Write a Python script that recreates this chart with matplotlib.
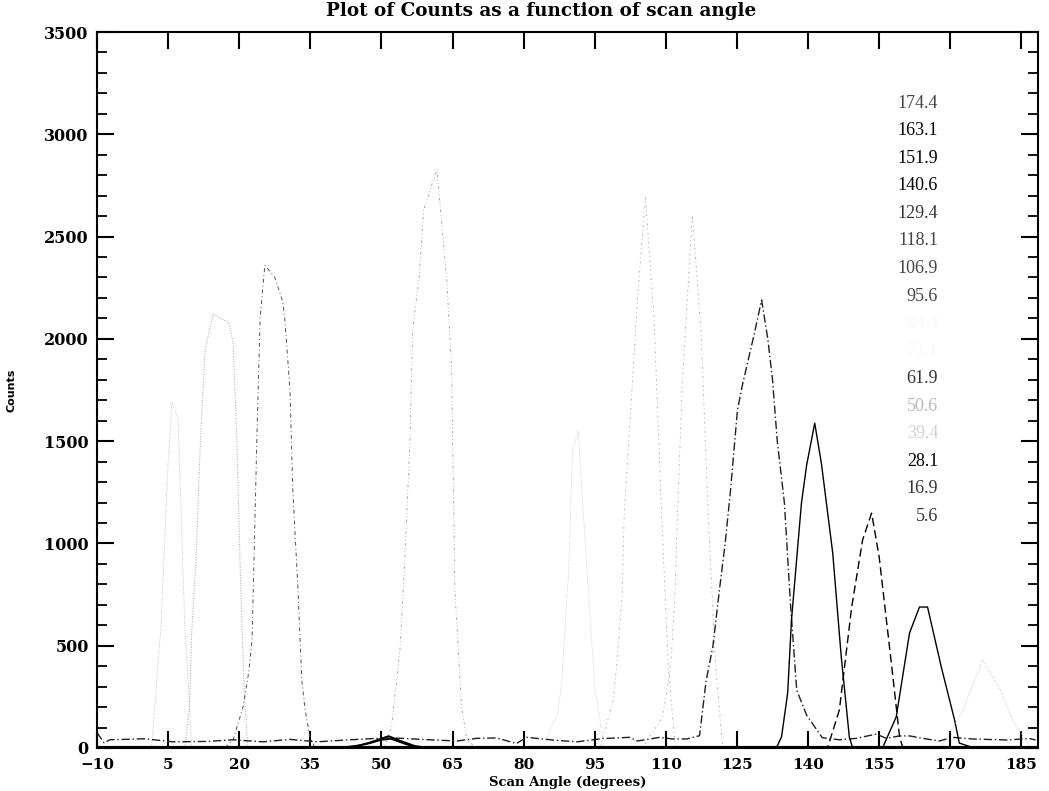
import matplotlib

matplotlib.use("Agg")
import matplotlib.pyplot as plt
from matplotlib.ticker import MultipleLocator

# scan angle / counts for each detector trace
ang_a = [-10, 17, 18.7, 20.8, 22.0, 22.7, 23.2, 23.7, 24.4, 25.4, 27.5, 29.2, 29.6, 30.7, 31.3, 32.4, 33.2, 33.9, 34.9, 36, 188]
cnt_a = [0, 0, 40, 200, 370, 530, 1000, 1500, 2100, 2360, 2300, 2180, 2100, 1750, 1260, 770, 330, 186, 54, 0, 0]

ang_b = [-10, 8.5, 9.5, 10.0, 10.9, 11.8, 12.8, 14.5, 17.8, 18.7, 19.5, 20.3, 21.0, 21.8, 188]
cnt_b = [0, 0, 200, 580, 930, 1500, 1950, 2120, 2080, 1980, 1500, 800, 300, 0, 0]

ang_c = [-10, 1.5, 3.5, 5.0, 5.8, 7.1, 8.5, 10.0, 188]
cnt_c = [0, 0, 600, 1400, 1690, 1610, 600, 0, 0]

ang_d = [-10, 50, 51.3, 52.2, 53.9, 54.9, 56.0, 56.6, 57.9, 58.9, 61.7, 63.8, 64.8, 65.5, 66.9, 68, 70, 188]
cnt_d = [0, 0, 40, 120, 480, 900, 1500, 2050, 2290, 2630, 2830, 2280, 1850, 770, 200, 40, 0, 0]

ang_e = [-10, 84, 87.2, 88.0, 89.5, 90.3, 91.5, 93, 95, 97, 188]
cnt_e = [0, 0, 170, 310, 870, 1450, 1550, 1000, 300, 0, 0]

ang_f = [-10, 96, 98.8, 99.6, 100.8, 101.2, 102.2, 104, 105.7, 107.5, 109, 110.5, 112, 188]
cnt_f = [0, 0, 220, 395, 757, 1130, 1500, 2200, 2690, 2100, 1200, 400, 0, 0]

ang_g = [-10, 105, 109.3, 110.8, 111.2, 112.0, 112.4, 113.5, 115.6, 117.5, 119, 120.5, 122, 188]
cnt_g = [0, 0, 150, 366, 464, 800, 1114, 1800, 2605, 2000, 1100, 400, 0, 0]

# background trace carrying the 130 deg peak
ang_h = [-10, -8.5, -7.3, 0, 6, 13.2, 18.7, 25, 30.7, 36.4, 43.3, 51.8, 60.2, 65.9, 70.1,
         74.3, 78.5, 80.6, 86.1, 91.2, 96.7, 102.4, 104, 108.7, 111.4, 114.4, 117.1, 118.5,
         119.9, 121.3, 122.5, 123.6, 125.1, 126.2, 128.7, 130.2, 131.5, 132.5, 133.5, 135.0,
         136.3, 137.6, 139.7, 143, 146.6, 150.2, 154.4, 156.5, 159.3, 161.4, 165, 167.7,
         170.4, 174.7, 181.8, 186.7, 188]
cnt_h = [75, 25, 40, 45, 30, 32, 40, 30, 42, 30, 40, 50, 40, 34, 47,
         49, 22, 52, 39, 30, 46, 52, 34, 52, 44, 44, 60, 330,
         494, 772, 1000, 1250, 1652, 1780, 2030, 2190, 2000, 1800, 1500, 1200,
         700, 283, 160, 50, 40, 47, 68, 47, 59, 59, 44, 34,
         52, 44, 39, 46, 39]

ang_i = [-10, 133.3, 134.4, 135.7, 136.5, 138.6, 139.7, 141.4, 142.8, 145.2, 147.0, 148.7, 149.4, 188]
cnt_i = [0, 0, 54, 270, 626, 1197, 1383, 1588, 1393, 953, 445, 54, 0, 0]

ang_j = [-10, 144.1, 146.6, 149.2, 151.5, 153.4, 155.0, 157.8, 159.3, 160, 188]
cnt_j = [0, 0, 186, 689, 1017, 1148, 934, 367, 54, 0, 0]

ang_k = [-10, 155.7, 158.6, 161.4, 163.5, 165.2, 168.1, 170.9, 171.9, 175, 188]
cnt_k = [0, 0, 152, 562, 689, 689, 396, 137, 24, 0, 0]

ang_l = [-10, 168, 172.5, 176.8, 180.8, 183.1, 187, 188]
cnt_l = [0, 0, 176, 430, 274, 137, 0, 0]

ang_m = [-10, 40, 45, 48, 51.5, 54, 57, 60, 188]
cnt_m = [0, 0, 10, 30, 58, 35, 10, 0, 0]

ang_n = [-10, 42, 47, 50, 52, 55, 58, 188]
cnt_n = [0, 0, 20, 40, 45, 20, 0, 0]

det_labels = ["174.4", "163.1", "151.9", "140.6", "129.4", "118.1", "106.9", "95.6",
              "84.4", "73.1", "61.9", "50.6", "39.4", "28.1", "16.9", "5.6"]
label_colors = ["#444444", "black", "black", "black", "#333333", "#444444", "#444444", "#444444",
                "#f8f8f8", "#f8f8f8", "#333333", "#b8b8b8", "#d0d0d0", "black", "#333333", "#333333"]

xticks = [-10, 5, 20, 35, 50, 65, 80, 95, 110, 125, 140, 155, 170, 185]

traces = [
    (ang_c, cnt_c, ":", "#b4b4b4", 0.6),
    (ang_b, cnt_b, ":", "#a0a0a0", 0.7),
    (ang_a, cnt_a, (0, (4, 3, 1, 3)), "#505050", 0.7),
    (ang_d, cnt_d, (0, (3, 3, 1, 3, 1, 3)), "#9a9a9a", 0.6),
    (ang_e, cnt_e, ":", "#c4c4c4", 0.6),
    (ang_f, cnt_f, (0, (2, 4, 1, 4)), "#a0a0a0", 0.6),
    (ang_g, cnt_g, (0, (2, 4, 1, 4)), "#a0a0a0", 0.6),
    (ang_h, cnt_h, (0, (6, 2, 1, 2)), "#202020", 1.0),
    (ang_i, cnt_i, "-", "black", 1.0),
    (ang_j, cnt_j, (0, (6, 3)), "black", 1.0),
    (ang_k, cnt_k, "-", "black", 1.0),
    (ang_l, cnt_l, ":", "#b8b8b8", 0.6),
    (ang_m, cnt_m, "-", "black", 1.3),
    (ang_n, cnt_n, "-", "black", 1.3),
]

fig = plt.figure(figsize=(10.49, 7.91), dpi=100)
ax = fig.add_axes([0.0925, 0.0544, 0.897, 0.9051])

for xs, ys, ls, col, lw in traces:
    ax.plot(xs, ys, linestyle=ls, color=col, linewidth=lw)
# heavy zero line where all the traces overlap
ax.axhline(0, color="black", linewidth=3.0)

ax.set_xlim(-10, 188.5)
ax.set_ylim(0, 3500)
ax.set_xticks(xticks)
ax.yaxis.set_major_locator(MultipleLocator(500))
ax.yaxis.set_minor_locator(MultipleLocator(100))
ax.tick_params(axis="both", which="major", direction="in", top=True, right=True,
               width=1.5, length=12, pad=6)
ax.tick_params(axis="x", which="major", pad=7)
ax.tick_params(axis="y", which="minor", direction="in", right=True, width=1.3, length=7)
ax.tick_params(axis="x", which="minor", bottom=False, top=False)
for lab in ax.get_yticklabels():
    lab.set_fontfamily("DejaVu Serif")
    lab.set_fontweight("bold")
    lab.set_fontsize(11.5)
for lab in ax.get_xticklabels():
    lab.set_fontfamily("DejaVu Serif")
    lab.set_fontweight("bold")
    lab.set_fontsize(11)
for sp in ax.spines.values():
    sp.set_linewidth(1.5)

for i, (txt, col) in enumerate(zip(det_labels, label_colors)):
    ax.text(0.894, 0.9008 - i * 0.0385, txt, transform=ax.transAxes, ha="right", va="center",
            fontsize=13, family="Liberation Serif", color=col)

fig.text(0.516, 0.986, "Plot of Counts as a function of scan angle", fontsize=13.2,
         fontweight="bold", family="DejaVu Serif", ha="center", va="center")
ax.set_xlabel("Scan Angle (degrees)", fontsize=9.5, fontweight="bold", family="DejaVu Serif")
ax.xaxis.set_label_coords(0.5, -0.0575)
ax.xaxis.label.set_va("bottom")
ax.set_ylabel("Counts", fontsize=8, fontweight="bold", family="DejaVu Sans", labelpad=20)

fig.savefig("out.png", dpi=100)
